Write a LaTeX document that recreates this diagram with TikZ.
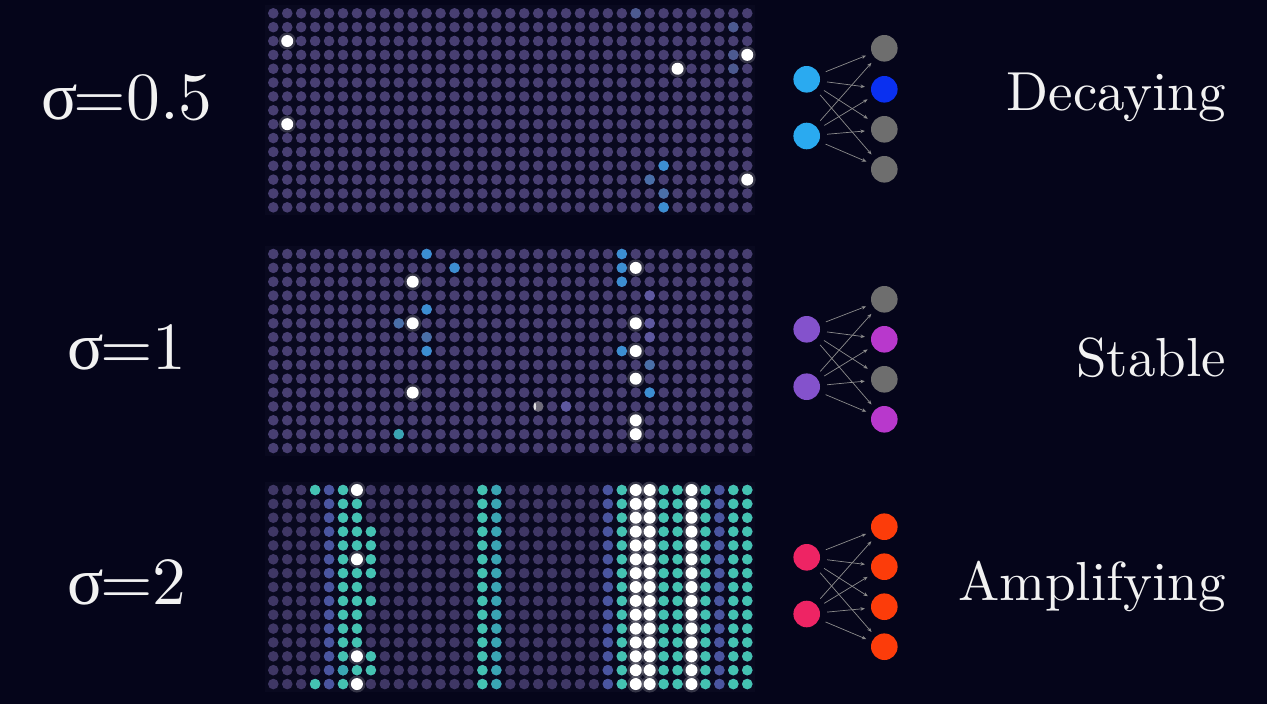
\documentclass[tikz,border=0pt]{standalone}
\usepackage{fontspec}
\usepackage{graphicx}
\newfontfamily\sigfont{Liberation Serif}
\usetikzlibrary{arrows.meta}
\definecolor{bg}{HTML}{05051A}
\definecolor{gridbg}{HTML}{09091F}
\definecolor{dotc}{HTML}{483F72}
\definecolor{dotd}{HTML}{3F3765}
\definecolor{tealc}{HTML}{44C2B2}
\definecolor{teald}{HTML}{3AA5B4}
\definecolor{bluec}{HTML}{3C8ED2}
\definecolor{bluef}{HTML}{4A6FA8}
\definecolor{bluet}{HTML}{4C5A90}
\definecolor{bluish}{HTML}{4A55A0}
\definecolor{lpurp}{HTML}{5E58A0}
\definecolor{inblue}{HTML}{2AAAF0}
\definecolor{outblue}{HTML}{0A30F0}
\definecolor{outgray}{HTML}{6E6E6E}
\definecolor{inpurp}{HTML}{8452CC}
\definecolor{outmag}{HTML}{B838CC}
\definecolor{inpink}{HTML}{EE2464}
\definecolor{outred}{HTML}{FC3C0A}
\definecolor{txt}{HTML}{F2F2F2}
\definecolor{edgec}{HTML}{8C8C8C}
\newcommand\dotat[3]{\fill[#1] ({#2*13.94},{#3*13.86}) circle (5.3);}
\newcommand\wdot[2]{\fill[white,opacity=0.18] ({#1*13.94},{#2*13.86}) circle (8.5);\fill[white] ({#1*13.94},{#2*13.86}) circle (6);}
\newcommand\basegrid[1]{\fill[gridbg] (-8,-8) rectangle (482,202);\foreach \c in {0,...,34}{\foreach \r in {0,...,14}{\dotat{#1}{\c}{\r}}}}
\tikzset{
  lbl/.style={text=txt,inner sep=0pt,font=\fontsize{10}{12}\selectfont},
  neuron/.style={circle,minimum size=26.6pt,inner sep=0pt},
  edge/.style={draw=edgec,line width=0.7pt,-{Stealth[length=4.5pt,width=3.6pt]},shorten <=7pt,shorten >=6pt}
}
\begin{document}
\begin{tikzpicture}[x=1pt,y=-1pt]
\fill[bg] (0,0) rectangle (1267,704);
\useasboundingbox (0,0) rectangle (1267,704);
% ---- top grid
\begin{scope}[shift={(273.3,13.3)}]
\basegrid{dotc}
\foreach \c/\r in {33/1,33/3,33/4,26/0}{\dotat{bluet}{\c}{\r}}
\foreach \c/\r in {28/11,28/14}{\dotat{bluec}{\c}{\r}}
\foreach \c/\r in {28/13,27/12}{\dotat{bluef}{\c}{\r}}
\foreach \c/\r in {1/2,1/8,34/3,29/4,34/12}{\wdot{\c}{\r}}
\end{scope}
% ---- middle grid
\begin{scope}[shift={(273.3,254)}]
\basegrid{dotc}
\foreach \c/\r in {11/0,13/1,11/4,11/7,25/0,25/1,25/2,25/7,27/10}{\dotat{bluec}{\c}{\r}}
\foreach \c/\r in {11/6,9/5,27/8}{\dotat{bluef}{\c}{\r}}
\foreach \c/\r in {27/3,27/5,27/6,21/11}{\dotat{lpurp}{\c}{\r}}
\dotat{teald}{9}{13}
\dotat{gray!70!dotc}{19}{11}
\fill[white,opacity=0.8] ({19*13.94-3.2},{11*13.86}) ellipse (1.1 and 3.8);
\foreach \c/\r in {10/2,10/5,10/10,26/1,26/5,26/7,26/9,26/12,26/13}{\wdot{\c}{\r}}
\end{scope}
% ---- bottom grid
\begin{scope}[shift={(273.3,490)}]
\basegrid{dotd}
\foreach \r in {0,...,14}{
  \dotat{bluish}{4}{\r}
  \dotat{tealc}{5}{\r}
  \dotat{tealc}{6}{\r}
  \dotat{tealc}{15}{\r}
  \dotat{teald}{16}{\r}
  \dotat{bluish}{24}{\r}
  \dotat{tealc}{25}{\r}
  \dotat{tealc}{28}{\r}
  \dotat{tealc}{29}{\r}
  \dotat{tealc}{31}{\r}
  \dotat{bluish}{32}{\r}
  \dotat{tealc}{33}{\r}
  \dotat{tealc}{34}{\r}
  \wdot{26}{\r}
  \wdot{27}{\r}
  \wdot{30}{\r}
}
\dotat{teald}{5}{13}
\foreach \r in {0,14}{\dotat{tealc}{3}{\r}}
\foreach \r in {3,4,5,6,8,12,13}{\dotat{tealc}{7}{\r}}
\foreach \r in {0,5,12,14}{\wdot{6}{\r}}
\end{scope}
% ---- labels
\node[lbl,anchor=base] (s1) at (127,119) {\scalebox{6.75}{{\sigfont σ}$\mskip-1mu{=}0.5$}};
\node[lbl,anchor=base] (s2) at (127,369) {\scalebox{6.75}{{\sigfont σ}$\mskip-1mu{=}1$}};
\node[lbl,anchor=base] (s3) at (127,604) {\scalebox{6.75}{{\sigfont σ}$\mskip-1mu{=}2$}};
\node[lbl,anchor=base east] (t1) at (1226,110) {\scalebox{5.5}{Decaying}};
\node[lbl,anchor=base east] (t2) at (1226,376) {\scalebox{5.5}{Stable}};
\node[lbl,anchor=base east] (t3) at (1226,600) {\scalebox{5.5}{Amplifying}};
% ---- networks
\node[neuron,fill=inblue] (a1) at (806.7,79.3) {};
\node[neuron,fill=inblue] (a2) at (806.7,136) {};
\node[neuron,fill=outgray] (b1) at (884.3,48.3) {};
\node[neuron,fill=outblue] (b2) at (884.3,89.3) {};
\node[neuron,fill=outgray] (b3) at (884.3,129.3) {};
\node[neuron,fill=outgray] (b4) at (884.3,169.3) {};
\node[neuron,fill=inpurp] (c1) at (806.7,329.3) {};
\node[neuron,fill=inpurp] (c2) at (806.7,386.7) {};
\node[neuron,fill=outgray] (d1) at (884.3,299.3) {};
\node[neuron,fill=outmag] (d2) at (884.3,339.3) {};
\node[neuron,fill=outgray] (d3) at (884.3,379.3) {};
\node[neuron,fill=outmag] (d4) at (884.3,419.3) {};
\node[neuron,fill=inpink] (e1) at (806.7,557.3) {};
\node[neuron,fill=inpink] (e2) at (806.7,614) {};
\node[neuron,fill=outred] (f1) at (884.3,526.7) {};
\node[neuron,fill=outred] (f2) at (884.3,566.7) {};
\node[neuron,fill=outred] (f3) at (884.3,606.7) {};
\node[neuron,fill=outred] (f4) at (884.3,646.7) {};
\foreach \i in {1,2}{\foreach \j in {1,...,4}{
  \draw[edge] (a\i) -- (b\j);
  \draw[edge] (c\i) -- (d\j);
  \draw[edge] (e\i) -- (f\j);
}}
\end{tikzpicture}
\end{document}
